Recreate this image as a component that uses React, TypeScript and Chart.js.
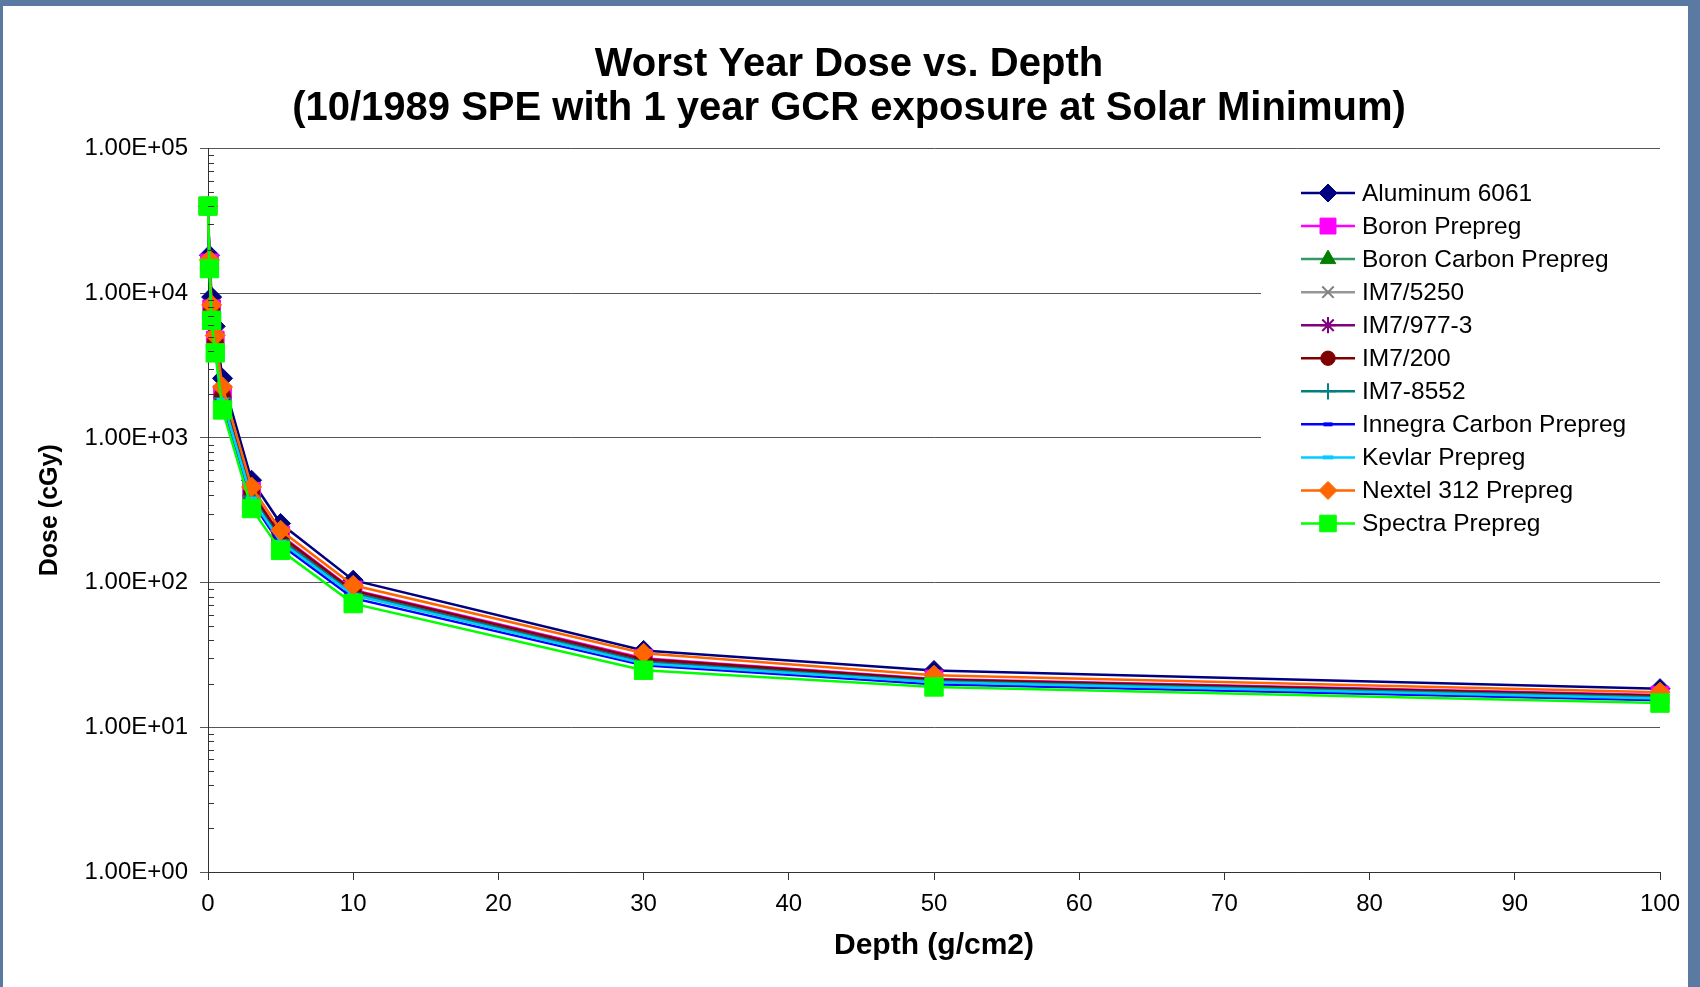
import React, { useEffect, useRef } from 'react';
import { Chart, registerables } from 'chart.js';
import { drawPoint } from 'chart.js/helpers';

Chart.register(...registerables);

const FONT = '"Liberation Sans", Arial, Helvetica, sans-serif';

const titleLines = [
  'Worst Year Dose vs. Depth',
  '(10/1989 SPE with 1 year GCR exposure at Solar Minimum)',
];
const xAxisTitle = 'Depth (g/cm2)';
const yAxisTitle = 'Dose (cGy)';

const depths = [0, 0.1, 0.25, 0.5, 1, 3, 5, 10, 30, 50, 100];

const aluminum6061 = [40000, 18300, 9400, 5900, 2580, 510, 256, 104, 34.0, 24.7, 18.5];
const boronPrepreg = [40000, 16200, 7800, 4750, 2000, 428, 213, 89, 30.0, 21.6, 16.7];
const boronCarbonPrepreg = [40000, 15800, 7400, 4450, 1920, 405, 203, 86, 29.0, 21.1, 16.3];
const im7_5250 = [40000, 15700, 7300, 4400, 1900, 400, 200, 85, 28.6, 21.0, 16.2];
const im7_977_3 = [40000, 15700, 7300, 4400, 1900, 398, 199, 84.5, 28.5, 20.9, 16.2];
const im7_200 = [40000, 16000, 7600, 4600, 1970, 422, 210, 88, 29.6, 21.4, 16.5];
const im7_8552 = [40000, 15600, 7250, 4350, 1880, 395, 197, 84, 28.2, 20.8, 16.1];
const innegraCarbonPrepreg = [40000, 15200, 6800, 4050, 1750, 365, 183, 78, 26.8, 19.8, 15.4];
const kevlarPrepreg = [40000, 15500, 7000, 4200, 1830, 381, 191, 82, 27.6, 20.5, 15.8];
const nextel312Prepreg = [40000, 17000, 8300, 5100, 2250, 458, 230, 95.8, 32.5, 22.9, 17.5];
const spectraPrepreg = [40000, 14800, 6500, 3870, 1560, 325, 167, 71.6, 24.8, 19.0, 14.7];

const yTickValues = [1, 10, 100, 1000, 10000, 100000];
const yTickLabels = ['1.00E+00', '1.00E+01', '1.00E+02', '1.00E+03', '1.00E+04', '1.00E+05'];
const xTickStep = 10;

type SeriesDef = {
  label: string;
  data: number[];
  line: string;
  marker: string;
  style: string;
  radius: number;
  bw: number;
};

const series: SeriesDef[] = [
  { label: 'Aluminum 6061', data: aluminum6061, line: '#000080', marker: '#000080', style: 'rectRot', radius: 10, bw: 1 },
  { label: 'Boron Prepreg', data: boronPrepreg, line: '#FF00FF', marker: '#FF00FF', style: 'rect', radius: 12.5, bw: 1 },
  { label: 'Boron Carbon Prepreg', data: boronCarbonPrepreg, line: '#339966', marker: '#008000', style: 'triangle', radius: 10, bw: 1 },
  { label: 'IM7/5250', data: im7_5250, line: '#969696', marker: '#808080', style: 'crossRot', radius: 9, bw: 2 },
  { label: 'IM7/977-3', data: im7_977_3, line: '#800080', marker: '#800080', style: 'star', radius: 9, bw: 2 },
  { label: 'IM7/200', data: im7_200, line: '#800000', marker: '#800000', style: 'circle', radius: 8, bw: 1 },
  { label: 'IM7-8552', data: im7_8552, line: '#008080', marker: '#008080', style: 'cross', radius: 9, bw: 2 },
  { label: 'Innegra Carbon Prepreg', data: innegraCarbonPrepreg, line: '#0000FF', marker: '#0000FF', style: 'line', radius: 5, bw: 4 },
  { label: 'Kevlar Prepreg', data: kevlarPrepreg, line: '#00CCFF', marker: '#00CCFF', style: 'line', radius: 6, bw: 4 },
  { label: 'Nextel 312 Prepreg', data: nextel312Prepreg, line: '#FF6600', marker: '#FF6600', style: 'rectRot', radius: 10, bw: 1 },
  { label: 'Spectra Prepreg', data: spectraPrepreg, line: '#00FF00', marker: '#00FF00', style: 'rect', radius: 13, bw: 1 },
];

const boxLegend = {
  id: 'boxLegend',
  beforeDatasetsDraw(chart: any) {
    const { ctx, chartArea } = chart;
    const left = chartArea.right - 399;
    const top = chartArea.top + 24;
    ctx.save();
    ctx.fillStyle = '#ffffff';
    ctx.fillRect(left, top, chartArea.right - left, 372);
    ctx.restore();
  },
  afterDraw(chart: any) {
    const { ctx, chartArea } = chart;
    const left = chartArea.right - 399;
    const firstY = chartArea.top + 44.5;
    const step = 33.05;
    ctx.save();
    series.forEach((s, i) => {
      const y = firstY + i * step;
      ctx.strokeStyle = s.line;
      ctx.lineWidth = 2.5;
      ctx.beginPath();
      ctx.moveTo(left + 40, y);
      ctx.lineTo(left + 94, y);
      ctx.stroke();
      ctx.fillStyle = s.marker;
      ctx.strokeStyle = s.marker;
      ctx.lineWidth = s.bw;
      drawPoint(ctx, { pointStyle: s.style as any, radius: s.radius * 0.9, rotation: 0, borderWidth: s.bw }, left + 67, y);
      ctx.fillStyle = '#000';
      ctx.font = `24.5px ${FONT}`;
      ctx.textBaseline = 'middle';
      ctx.textAlign = 'left';
      ctx.fillText(s.label, left + 101, y + 1);
    });
    ctx.restore();
  },
};

const minorTicks = {
  id: 'minorTicks',
  afterDraw(chart: any) {
    const { ctx, chartArea, scales } = chart;
    const ys = scales.y;
    ctx.save();
    ctx.strokeStyle = '#333';
    ctx.lineWidth = 1;
    for (let d = 0; d < yTickValues.length - 1; d++) {
      for (let m = 2; m <= 9; m++) {
        const py = Math.round(ys.getPixelForValue(m * yTickValues[d])) + 0.5;
        ctx.beginPath();
        ctx.moveTo(chartArea.left, py);
        ctx.lineTo(chartArea.left + 6, py);
        ctx.stroke();
      }
    }
    ctx.restore();
  },
};

export default function App() {
  const ref = useRef<HTMLCanvasElement | null>(null);

  useEffect(() => {
    if (!ref.current) return;
    const chart = new Chart(ref.current, {
      type: 'line',
      data: {
        datasets: series.map((s, i) => ({
          label: s.label,
          data: depths.map((d, j) => ({ x: d, y: s.data[j] })),
          borderColor: s.line,
          backgroundColor: s.marker,
          borderWidth: 2.5,
          pointStyle: s.style as any,
          pointRadius: s.radius,
          pointBorderWidth: s.bw,
          pointBorderColor: s.marker,
          pointBackgroundColor: s.marker,
          tension: 0,
          fill: false,
          clip: false as any,
          order: series.length - i,
        })),
      },
      options: {
        responsive: false,
        animation: false,
        devicePixelRatio: 1,
        layout: { padding: { left: 38, right: 40, top: 0, bottom: 0 } },
        plugins: {
          legend: { display: false },
          tooltip: { enabled: false },
          title: {
            display: true,
            text: titleLines,
            color: '#000',
            font: { family: FONT, size: 40, weight: 'bold', lineHeight: 1.1 },
            padding: { top: 42.5, bottom: 18 },
          },
        },
        scales: {
          x: {
            type: 'linear',
            min: 0,
            max: 100,
            afterFit: (s: any) => { s.height = 115; },
            ticks: {
              stepSize: xTickStep,
              color: '#000',
              font: { family: FONT, size: 24 },
              padding: 10,
              maxRotation: 0,
            },
            grid: { display: true, drawOnChartArea: false, drawTicks: true, tickLength: 8, color: '#333' },
            border: { display: true, color: '#333', width: 1 },
            title: {
              display: true,
              text: xAxisTitle,
              color: '#000',
              font: { family: FONT, size: 30, weight: 'bold', lineHeight: 1 },
              padding: { top: 0, bottom: 26 },
            },
          },
          y: {
            type: 'logarithmic',
            min: 1,
            max: 100000,
            afterFit: (s: any) => { s.width = 170; },
            afterBuildTicks: (s: any) => { s.ticks = yTickValues.map((v) => ({ value: v })); },
            ticks: {
              color: '#000',
              font: { family: FONT, size: 24 },
              padding: 12,
              autoSkip: false,
              callback: (v: any) => {
                const idx = yTickValues.indexOf(Number(v));
                return idx >= 0 ? yTickLabels[idx] : '';
              },
            },
            grid: { display: true, drawOnChartArea: true, drawTicks: true, tickLength: 8, color: '#555', lineWidth: 1 },
            border: { display: true, color: '#333', width: 1 },
            title: {
              display: true,
              text: yAxisTitle,
              color: '#000',
              font: { family: FONT, size: 25, weight: 'bold', lineHeight: 1 },
              padding: { top: 0, bottom: 0 },
            },
          },
        },
      },
      plugins: [boxLegend, minorTicks],
    });
    return () => chart.destroy();
  }, []);

  return (
    <div style={{ position: 'fixed', left: 0, top: 0, width: 1700, height: 987, background: '#5a7aa1', overflow: 'hidden' }}>
      <div style={{ position: 'absolute', left: 3, top: 6, width: 1685, height: 981, background: '#ffffff' }} />
      <canvas ref={ref} width={1700} height={987} style={{ position: 'absolute', left: 0, top: 0, width: 1700, height: 987 }} />
    </div>
  );
}
